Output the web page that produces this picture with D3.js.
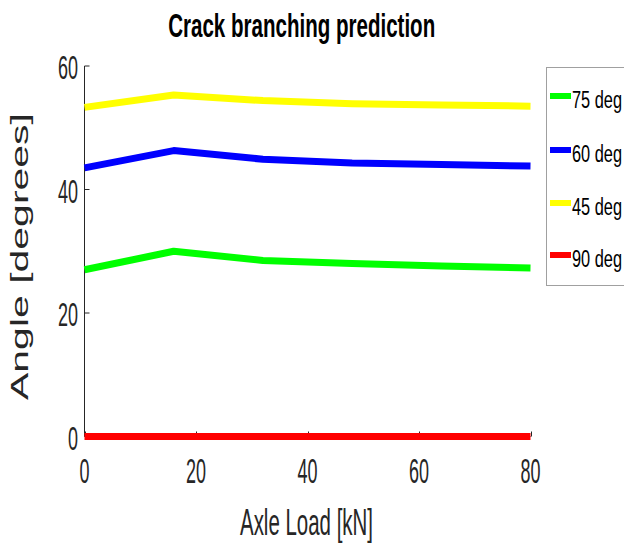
<!DOCTYPE html>
<html><head><meta charset="utf-8">
<script src="https://cdn.jsdelivr.net/npm/d3@7"></script>
<style>body{margin:0;background:#fff}svg{display:block}text{font-family:"Liberation Sans",Arial,sans-serif}</style>
</head><body><svg id="c" width="624" height="543"></svg>
<script>
const loads = [0, 16, 32, 48, 64, 80];
const seriesNames = ["75 deg", "60 deg", "45 deg", "90 deg"];
const seriesColors = ["#00ff00", "#0000ff", "#ffff00", "#ff0000"];
const deg75 = [27.0, 30.0, 28.5, 28.0, 27.6, 27.3];
const deg60 = [43.5, 46.3, 44.9, 44.3, 44.05, 43.8];
const deg45 = [53.3, 55.3, 54.4, 53.9, 53.7, 53.5];
const deg90 = [0, 0, 0, 0, 0, 0];
const xTicks = [0, 20, 40, 60, 80];
const yTicks = [0, 20, 40, 60];
const titleText = "Crack branching prediction";
const xLabel = "Axle Load [kN]";
const yLabel = "Angle [degrees]";

const series = [deg75, deg60, deg45, deg90];
const svg = d3.select("#c");
const x = d3.scaleLinear().domain([0, 80]).range([84.5, 530.5]);
const y = d3.scaleLinear().domain([0, 60]).range([436.5, 66]);
const tc = "#262626";

// axes lines
svg.append("line").attr("x1", x(0)).attr("x2", x(0)).attr("y1", y(60)).attr("y2", y(0)).attr("stroke", tc).attr("stroke-width", 1);
svg.append("line").attr("x1", x(0)).attr("x2", x(80)).attr("y1", y(0)).attr("y2", y(0)).attr("stroke", tc).attr("stroke-width", 1);
// ticks (inward)
svg.selectAll(".xt").data(xTicks).enter().append("line")
  .attr("x1", d => Math.round(x(d)) + 0.5).attr("x2", d => Math.round(x(d)) + 0.5)
  .attr("y1", y(0)).attr("y2", y(0) - 5).attr("stroke", tc);
svg.selectAll(".yt").data(yTicks).enter().append("line")
  .attr("x1", x(0)).attr("x2", x(0) + 5)
  .attr("y1", d => y(d)).attr("y2", d => y(d)).attr("stroke", tc);
// tick labels
svg.selectAll(".xl").data(xTicks).enter().append("text")
  .attr("x", d => x(d)).attr("y", 483).attr("text-anchor", "middle")
  .attr("font-size", 35).attr("fill", tc)
  .attr("textLength", d => String(d).length * 10).attr("lengthAdjust", "spacingAndGlyphs")
  .text(d => d);
svg.selectAll(".yl").data(yTicks).enter().append("text")
  .attr("x", 78).attr("y", d => y(d) + 13).attr("text-anchor", "end")
  .attr("font-size", 33).attr("fill", tc)
  .attr("textLength", d => String(d).length * 10).attr("lengthAdjust", "spacingAndGlyphs")
  .text(d => d);

// lines
const line = d3.line().x((d, i) => x(loads[i])).y(d => y(d));
series.forEach((s, k) => {
  svg.append("path").attr("d", line(s)).attr("fill", "none")
    .attr("stroke", seriesColors[k]).attr("stroke-width", 7)
    .attr("stroke-linejoin", "round");
});

// title & labels
svg.append("text").attr("x", 301.7).attr("y", 37).attr("text-anchor", "middle")
  .attr("font-size", 34).attr("font-weight", "bold").attr("fill", "#000")
  .attr("textLength", 267).attr("lengthAdjust", "spacingAndGlyphs").text(titleText);
svg.append("text").attr("x", 306.5).attr("y", 535).attr("text-anchor", "middle")
  .attr("font-size", 36).attr("fill", tc)
  .attr("textLength", 133).attr("lengthAdjust", "spacingAndGlyphs").text(xLabel);
svg.append("text").attr("transform", "translate(28,256.5) rotate(-90)").attr("text-anchor", "middle")
  .attr("font-size", 23).attr("fill", tc)
  .attr("textLength", 287).attr("lengthAdjust", "spacingAndGlyphs").text(yLabel);

// legend
svg.append("rect").attr("x", 546.5).attr("y", 67.5).attr("width", 90).attr("height", 218)
  .attr("fill", "#fff").attr("stroke", "#a0a0a0").attr("stroke-width", 1);
const ly = [96, 150, 203, 255];
seriesNames.forEach((n, k) => {
  svg.append("line").attr("x1", 550).attr("x2", 571).attr("y1", ly[k]).attr("y2", ly[k])
    .attr("stroke", seriesColors[k]).attr("stroke-width", 6);
  svg.append("text").attr("x", 572).attr("y", ly[k] + 12).attr("font-size", 23).attr("fill", "#000")
    .attr("textLength", 50).attr("lengthAdjust", "spacingAndGlyphs").text(n);
});
</script></body></html>
